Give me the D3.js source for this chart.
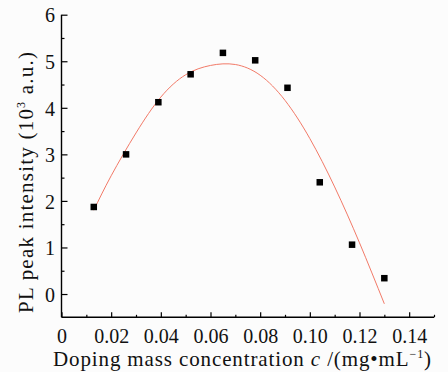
<!DOCTYPE html>
<html>
<head>
<meta charset="utf-8">
<script src="https://cdn.jsdelivr.net/npm/d3@7"></script>
<style>
  body { margin: 0; background: #fcfcfc; }
  svg { display: block; }
  text { font-family: "Liberation Serif", serif; fill: #111; }
</style>
</head>
<body>
<div id="chart"></div>
<script>
// measured points
const concentration = [0.013, 0.026, 0.039, 0.052, 0.065, 0.078, 0.091, 0.104, 0.117, 0.130];
const intensity = [1.87, 3.00, 4.12, 4.72, 5.18, 5.02, 4.43, 2.40, 1.06, 0.34];

// fitted curve
const fitX = [0.013, 0.020, 0.030, 0.040, 0.050, 0.060, 0.070, 0.080, 0.090, 0.100, 0.110, 0.120, 0.130];
const fitY = [1.80, 2.54, 3.46, 4.23, 4.71, 4.91, 4.93, 4.70, 4.16, 3.34, 2.30, 1.10, -0.21];

const xTicks = [0, 0.02, 0.04, 0.06, 0.08, 0.10, 0.12, 0.14];
const xTickLabels = ["0", "0.02", "0.04", "0.06", "0.08", "0.10", "0.12", "0.14"];
const xMinor = [0.01, 0.03, 0.05, 0.07, 0.09, 0.11, 0.13, 0.15];
const yTicks = [0, 1, 2, 3, 4, 5, 6];
const yMinor = [0.5, 1.5, 2.5, 3.5, 4.5, 5.5];

const width = 448, height = 372;

const svg = d3.select("#chart").append("svg")
  .attr("width", width)
  .attr("height", height);

const x = d3.scaleLinear().domain([0, 0.15]).range([61.5, 434]);
const y = d3.scaleLinear().domain([-0.5, 6]).range([317.3, 14.7]);

// minor ticks
svg.append("g")
  .attr("transform", "translate(0," + y(-0.5) + ")")
  .call(d3.axisBottom(x).tickValues(xMinor).tickSize(-2.5).tickFormat(""))
  .call(g => g.select(".domain").remove());
svg.append("g")
  .attr("transform", "translate(" + x(0) + ",0)")
  .call(d3.axisLeft(y).tickValues(yMinor).tickSize(-3).tickFormat(""))
  .call(g => g.select(".domain").remove());

// major axes
const xAxis = svg.append("g")
  .attr("transform", "translate(0," + y(-0.5) + ")")
  .call(d3.axisBottom(x).tickValues(xTicks).tickSize(-5).tickPadding(11.2)
    .tickFormat((d, i) => xTickLabels[i]));
const yAxis = svg.append("g")
  .attr("transform", "translate(" + x(0) + ",0)")
  .call(d3.axisLeft(y).tickValues(yTicks).tickSize(-6).tickPadding(6.5)
    .tickFormat(d3.format("d")));

svg.selectAll(".domain").attr("stroke-width", 1.4);
xAxis.select(".domain").attr("d", "M" + x(0) + ",0H" + x(0.15));
yAxis.select(".domain").attr("d", "M0," + y(-0.5) + "V" + y(6));
svg.selectAll(".tick line").attr("stroke-width", 1.2);
svg.selectAll(".tick text")
  .style("font-family", "Liberation Serif, serif")
  .style("font-size", "20px")
  .attr("fill", "#111");
yAxis.selectAll(".tick text").attr("dy", "0.36em");

// fit curve
const line = d3.line()
  .x((d, i) => x(fitX[i]))
  .y(d => y(d))
  .curve(d3.curveNatural);

svg.append("path")
  .datum(fitY)
  .attr("d", line)
  .attr("fill", "none")
  .attr("stroke", "#f27a68")
  .attr("stroke-width", 1);

// markers
const s = 6.5;
svg.selectAll("rect.pt")
  .data(intensity)
  .enter()
  .append("rect")
  .attr("class", "pt")
  .attr("x", (d, i) => x(concentration[i]) - s / 2)
  .attr("y", d => y(d) - s / 2)
  .attr("width", s)
  .attr("height", s)
  .attr("fill", "#000");

// axis titles
const xt = svg.append("text")
  .attr("x", 242)
  .attr("y", 366)
  .attr("text-anchor", "middle")
  .attr("textLength", 378)
  .attr("lengthAdjust", "spacing")
  .style("font-size", "21px");
xt.append("tspan").text("Doping mass concentration ");
xt.append("tspan").style("font-style", "italic").text("c");
xt.append("tspan").text(" /(mg\u2022mL");
xt.append("tspan").attr("dy", -8).style("font-size", "12px").text("\u22121");
xt.append("tspan").attr("dy", 8).text(")");

const yt = svg.append("text")
  .attr("transform", "translate(33,182.5) rotate(-90)")
  .attr("text-anchor", "middle")
  .attr("textLength", 261)
  .attr("lengthAdjust", "spacing")
  .style("font-size", "21px");
yt.append("tspan").text("PL peak intensity (10");
yt.append("tspan").attr("dy", -8).style("font-size", "12px").text("3");
yt.append("tspan").attr("dy", 8).text(" a.u.)");
</script>
</body>
</html>
